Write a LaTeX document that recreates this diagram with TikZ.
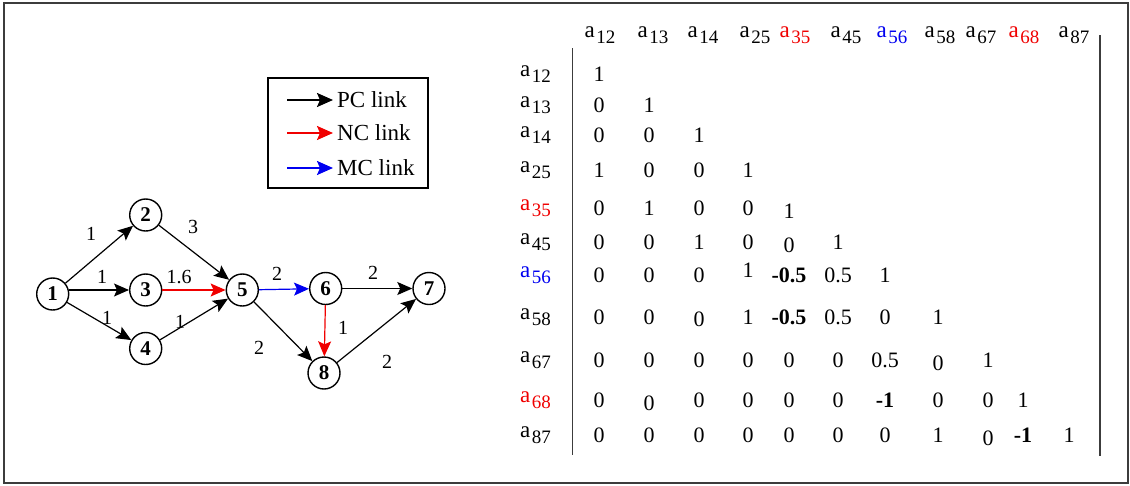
\documentclass[tikz,border=0pt]{standalone}
\usepackage{fontspec}
\setmainfont{Liberation Serif}
\usetikzlibrary{arrows.meta}
\definecolor{ncred}{RGB}{240,0,0}
\definecolor{mcblue}{RGB}{0,0,240}
\definecolor{framegray}{RGB}{60,60,60}
% matrix variable a_{ij}: a large "a" followed by a smaller, lowered index
\newcommand\avar[1]{{\fontsize{23}{23}\selectfont a}\kern1.5pt\raisebox{-6pt}{\fontsize{19}{19}\selectfont #1}}
\begin{document}
\begin{tikzpicture}[x=1pt,y=-1pt,
  vertex/.style={circle,draw,line width=1.4pt,minimum size=32pt,inner sep=0pt,
                 font=\fontsize{21}{21}\selectfont\bfseries},
  link/.style={line width=1.2pt,-{Stealth[length=15pt,width=13pt,inset=3pt]}},
  keyarrow/.style={line width=2pt,-{Stealth[length=16pt,width=14pt,inset=3pt]}},
  weight/.style={font=\fontsize{20}{20}\selectfont,inner sep=0pt},
  keytext/.style={font=\fontsize{23}{23}\selectfont,inner sep=0pt,anchor=west},
  varlabel/.style={inner sep=0pt,anchor=base},
  cell/.style={font=\fontsize{22}{22}\selectfont,inner sep=0pt,text height=15pt,text depth=0pt},
  bar/.style={line width=1.5pt,draw=framegray}
]
\useasboundingbox (0,0) rectangle (1130,485);
\draw[line width=1.5pt,draw=framegray] (4,3) rectangle (1128,483);

% ---------- network ----------
\node[vertex] (n1) at (52.7,294) {1};
\node[vertex] (n2) at (145.7,215) {2};
\node[vertex] (n3) at (145.7,290) {3};
\node[vertex] (n4) at (145.7,348.5) {4};
\node[vertex] (n5) at (242.3,290) {5};
\node[vertex] (n6) at (325.7,288.5) {6};
\node[vertex] (n7) at (429,288.5) {7};
\node[vertex] (n8) at (324,373) {8};

\draw[link] (n1) -- (n2);
\draw[link] (n3 -| n1.east) -- (n3);
\draw[link] (n1) -- (n4);
\draw[link] (n2) -- (n5);
\draw[link,draw=ncred] (n3) -- (n5);
\draw[link] (n4) -- (n5);
\draw[link,draw=mcblue] (n5) -- (n6);
\draw[link] (n5) -- (n8);
\draw[link] (n6) -- (n7);
\draw[link,draw=ncred] (n6) -- (n8);
\draw[link] (n8) -- (n7);

\node[weight] (w12) at (91,234) {1};
\node[weight] (w25) at (193,227) {3};
\node[weight] (w13) at (102,277) {1};
\node[weight] (w35) at (179,277) {1.6};
\node[weight] (w14) at (107,318) {1};
\node[weight] (w45) at (180,322) {1};
\node[weight] (w56) at (277,274) {2};
\node[weight] (w67) at (373,273) {2};
\node[weight] (w68) at (343,328) {1};
\node[weight] (w58) at (259,348) {2};
\node[weight] (w87) at (387,362) {2};

% ---------- legend ----------
\draw[line width=1.3pt] (268,78) rectangle (428,188);
\node[keytext] (kpc) at (337,100) {PC link};
\node[keytext] (knc) at (337,133) {NC link};
\node[keytext] (kmc) at (337,168) {MC link};
\coordinate (kpc0) at (287,100);
\coordinate (knc0) at (287,133);
\coordinate (kmc0) at (287,168);
\draw[keyarrow] (kpc0) -- ([xshift=-4pt]kpc.west);
\draw[keyarrow,draw=ncred] (knc0) -- ([xshift=-4pt]knc.west);
\draw[keyarrow,draw=mcblue] (kmc0) -- ([xshift=-4pt]kmc.west);

% ---------- correlation matrix ----------
\draw[bar] (572.7,48) -- (572.7,455);
\draw[bar] (1100,35) -- (1100,456);

% column heads
\foreach \x/\t/\c in {600/12/black,653/13/black,703/14/black,755/25/black,795/35/ncred,
                      846/45/black,892/56/mcblue,940/58/black,981/67/black,1024/68/ncred,1074/87/black}
  \node[varlabel,text=\c] (h\t) at (\x,37) {\avar{\t}};

% row heads
\foreach \y/\t/\c in {74/12/black,105/13/black,135/14/black,170/25/black,208/35/ncred,
                      242/45/black,275/56/mcblue,317/58/black,360/67/black,400/68/ncred,435/87/black}
  \node[varlabel,anchor=base west,text=\c] (r\t) at (520,\y+2) {\avar{\t}};

% entries: row / column / value / vertical offset
\def\colx{{599,649,699,748,789,838,885,938,988,1023,1069}}
\def\rowy{{74,105,135,170,208,242,275,317,360,400,435}}
\foreach \r/\c/\v/\d in {
  1/1/1/0,
  2/1/0/0, 2/2/1/0,
  3/1/0/0, 3/2/0/0, 3/3/1/0,
  4/1/1/0, 4/2/0/0, 4/3/0/0, 4/4/1/0,
  5/1/0/0, 5/2/1/0, 5/3/0/0, 5/4/0/0, 5/5/1/3,
  6/1/0/0, 6/2/0/0, 6/3/1/0, 6/4/0/0, 6/5/0/3, 6/6/1/0,
  7/1/0/0, 7/2/0/0, 7/3/0/0, 7/4/1/-5, 7/5/{\textbf{-0.5}}/0, 7/6/0.5/0, 7/7/1/0,
  8/1/0/0, 8/2/0/0, 8/3/0/2, 8/4/1/0, 8/5/{\textbf{-0.5}}/0, 8/6/0.5/0, 8/7/0/0, 8/8/1/0,
  9/1/0/0, 9/2/0/0, 9/3/0/0, 9/4/0/0, 9/5/0/0, 9/6/0/0, 9/7/0.5/0, 9/8/0/3, 9/9/1/0,
  10/1/0/0, 10/2/0/3, 10/3/0/0, 10/4/0/0, 10/5/0/0, 10/6/0/0, 10/7/{\textbf{-1}}/0, 10/8/0/0, 10/9/0/0, 10/10/1/0,
  11/1/0/0, 11/2/0/0, 11/3/0/0, 11/4/0/0, 11/5/0/0, 11/6/0/0, 11/7/0/0, 11/8/1/0, 11/9/0/3, 11/10/{\textbf{-1}}/0, 11/11/1/0}
{
  \pgfmathsetmacro\ex{\colx[\c-1]}
  \pgfmathsetmacro\ey{\rowy[\r-1]+\d}
  \node[cell] (e\r-\c) at (\ex,\ey) {\v};
}
\end{tikzpicture}
\end{document}
